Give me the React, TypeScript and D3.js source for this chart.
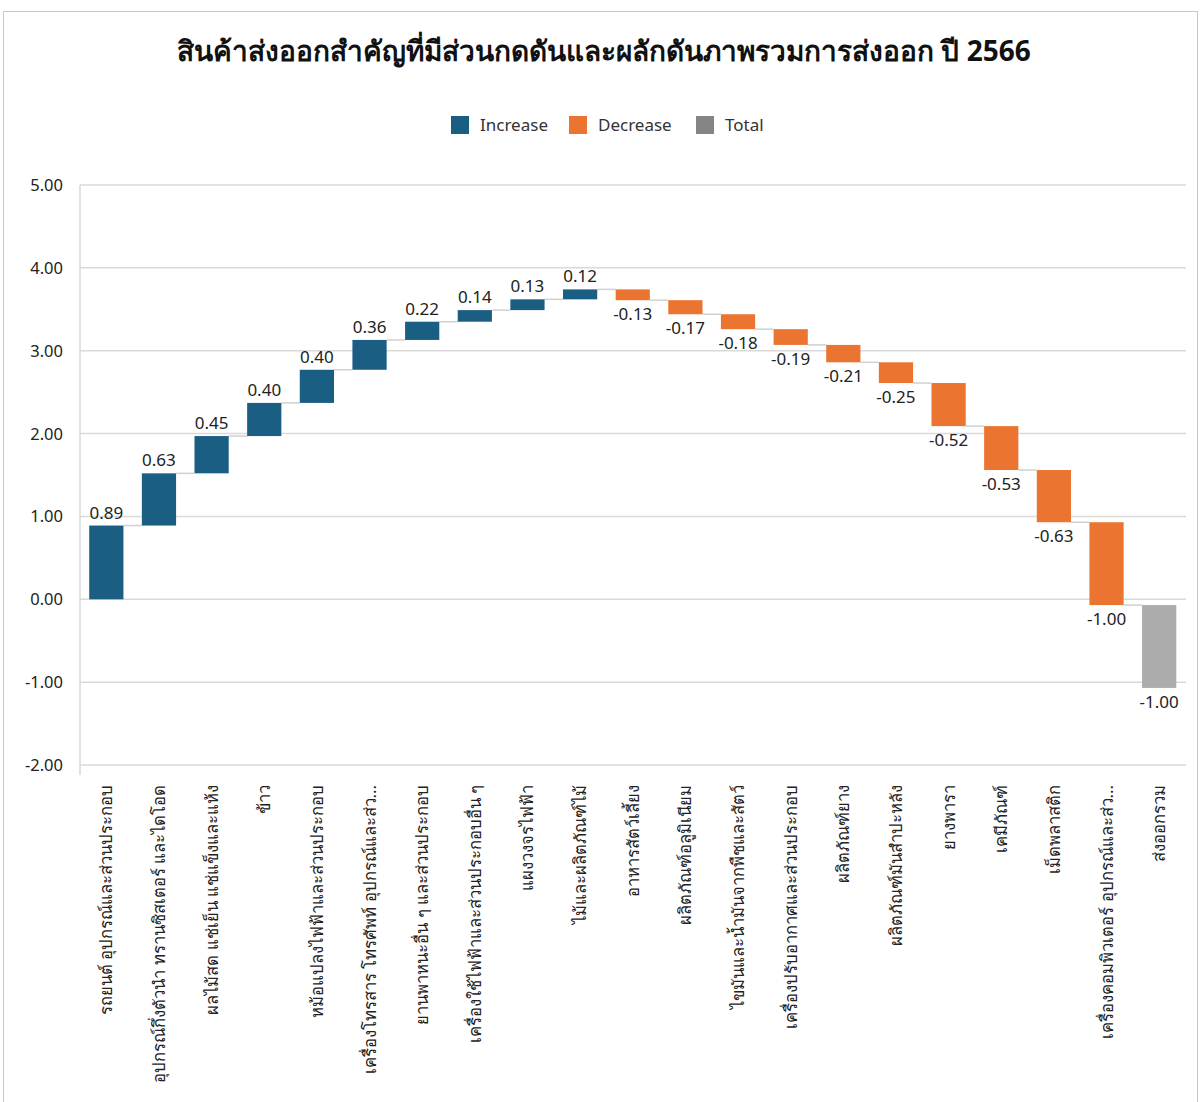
import React from "react";
import * as d3 from "d3";

const categories = [
  "รถยนต์ อุปกรณ์และส่วนประกอบ",
  "อุปกรณ์กึ่งตัวนำ ทรานซิสเตอร์ และไดโอด",
  "ผลไม้สด แช่เย็น แช่แข็งและแห้ง",
  "ข้าว",
  "หม้อแปลงไฟฟ้าและส่วนประกอบ",
  "เครื่องโทรสาร โทรศัพท์ อุปกรณ์และส่ว...",
  "ยานพาหนะอื่น ๆ และส่วนประกอบ",
  "เครื่องใช้ไฟฟ้าและส่วนประกอบอื่น ๆ",
  "แผงวงจรไฟฟ้า",
  "ไม้และผลิตภัณฑ์ไม้",
  "อาหารสัตว์เลี้ยง",
  "ผลิตภัณฑ์อลูมิเนียม",
  "ไขมันและน้ำมันจากพืชและสัตว์",
  "เครื่องปรับอากาศและส่วนประกอบ",
  "ผลิตภัณฑ์ยาง",
  "ผลิตภัณฑ์มันสำปะหลัง",
  "ยางพารา",
  "เคมีภัณฑ์",
  "เม็ดพลาสติก",
  "เครื่องคอมพิวเตอร์ อุปกรณ์และส่ว...",
  "ส่งออกรวม",
];
const changes = [
  0.89, 0.63, 0.45, 0.4, 0.4, 0.36, 0.22, 0.14, 0.13, 0.12,
  -0.13, -0.17, -0.18, -0.19, -0.21, -0.25, -0.52, -0.53, -0.63, -1.0, -1.0,
];
const kinds = [
  "inc", "inc", "inc", "inc", "inc", "inc", "inc", "inc", "inc", "inc",
  "dec", "dec", "dec", "dec", "dec", "dec", "dec", "dec", "dec", "dec", "total",
];
const yTicks = [5, 4, 3, 2, 1, 0, -1, -2];
const legendItems = ["Increase", "Decrease", "Total"];

const colors: Record<string, string> = { inc: "#1b5e84", dec: "#ec7431", total: "#acacac" };
const legendColors = ["#1b5e84", "#ec7431", "#858585"];

const W = 1202;
const H = 1102;
const FONT = "'Noto Sans', Tahoma, 'DejaVu Sans', sans-serif";

export default function App() {
  const x = d3.scaleBand<string>().domain(categories).range([80, 1185.5]).paddingInner(0.35).paddingOuter(0.175);
  const y = d3.scaleLinear().domain([-2, 5]).range([765, 185]);

  let run = 0;
  const steps = changes.map((v, i) => {
    const start = run;
    run += v;
    return { name: categories[i], v, start, end: run, kind: kinds[i] };
  });

  // excel style: plain hyphen for negatives
  const fmt = (v: number) => d3.format(".2f")(v).replace("\u2212", "-");

  return (
    <svg width={W} height={H} style={{ position: "absolute", left: 0, top: 0, fontFamily: FONT }}>
      <rect x={0} y={0} width={W} height={H} fill="#fff" />
      <rect x={3.5} y={11.5} width={1194} height={1100} fill="none" stroke="#c8c8c8" />
      <text x={604} y={61} textAnchor="middle" fontSize={28} fontWeight="bold" fill="#111">
        สินค้าส่งออกสำคัญที่มีส่วนกดดันและผลักดันภาพรวมการส่งออก ปี 2566
      </text>
      {legendItems.map((t, i) => {
        const lx = [451, 569, 696][i];
        return (
          <g key={t}>
            <rect x={lx} y={116} width={18} height={18} fill={legendColors[i]} />
            <text x={lx + 29} y={131} fontSize={17} fill="#333">{t}</text>
          </g>
        );
      })}
      {yTicks.map((t) => (
        <g key={t}>
          <line x1={80} x2={1186} y1={y(t)} y2={y(t)} stroke="#d9d9d9" strokeWidth={1.5} />
          <text x={63} y={y(t) + 6} textAnchor="end" fontSize={16.5} fill="#222">{fmt(t)}</text>
        </g>
      ))}
      <line x1={80} x2={80} y1={185} y2={775} stroke="#d9d9d9" strokeWidth={1.5} />
      {steps.slice(0, -1).map((s, i) => (
        <line
          key={"c" + i}
          x1={(x(s.name) as number) + x.bandwidth()}
          x2={x(categories[i + 1]) as number}
          y1={y(s.end)}
          y2={y(s.end)}
          stroke="#d0d0d0"
          strokeWidth={1.5}
        />
      ))}
      {steps.map((s) => {
        const top = y(Math.max(s.start, s.end));
        const bot = y(Math.min(s.start, s.end));
        const cx = (x(s.name) as number) + x.bandwidth() / 2;
        const up = s.v >= 0;
        return (
          <g key={s.name}>
            <rect x={x(s.name)} y={top} width={x.bandwidth()} height={bot - top} fill={colors[s.kind]} />
            <text x={cx} y={up ? top - 7 : bot + 20} textAnchor="middle" fontSize={17} fill="#222">
              {fmt(s.v)}
            </text>
          </g>
        );
      })}
      {categories.map((c) => {
        const cx = (x(c) as number) + x.bandwidth() / 2;
        return (
          <text
            key={"l" + c}
            transform={`translate(${cx + 6},785) rotate(-90)`}
            textAnchor="end"
            fontSize={16.7}
            fill="#222"
          >
            {c}
          </text>
        );
      })}
    </svg>
  );
}
